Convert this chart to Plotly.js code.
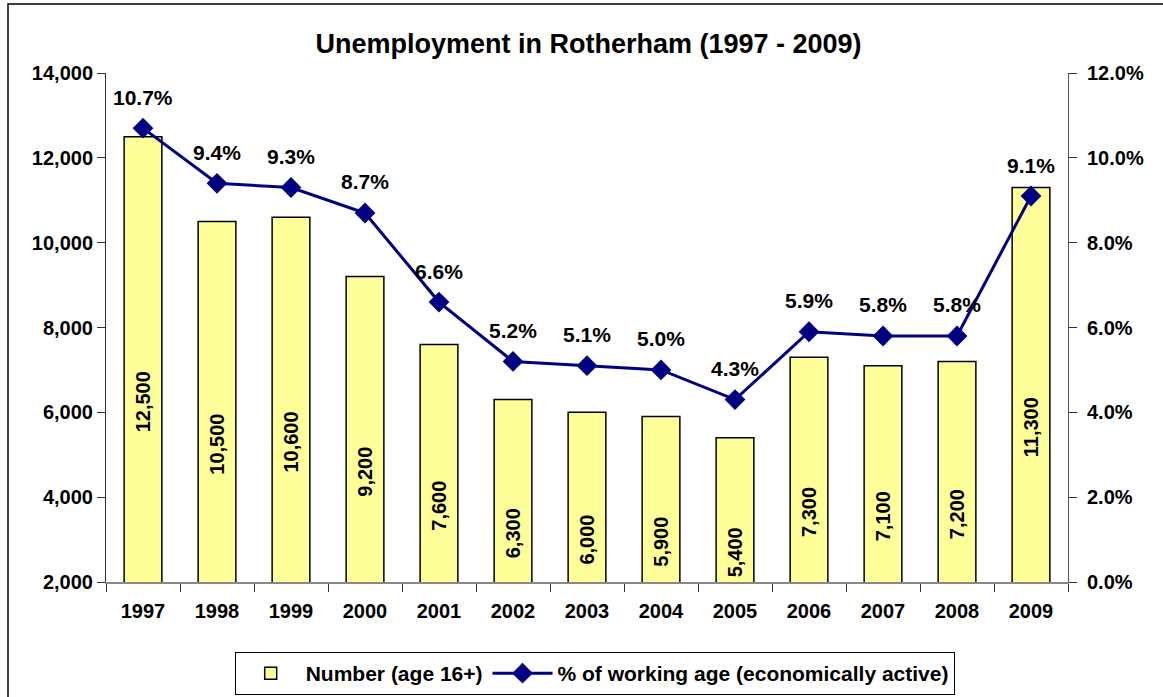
<!DOCTYPE html>
<html>
<head>
<meta charset="utf-8">
<script src="https://cdn.plot.ly/plotly-3.0.1.min.js"></script>
<style>html,body{margin:0;padding:0;background:#fff;}#chart{width:1163px;height:697px;}</style>
</head>
<body>
<div id="chart"></div>
<script>
var years = ['1997','1998','1999','2000','2001','2002','2003','2004','2005','2006','2007','2008','2009'];
var numbers = [12500,10500,10600,9200,7600,6300,6000,5900,5400,7300,7100,7200,11300];
var percents = [10.7,9.4,9.3,8.7,6.6,5.2,5.1,5.0,4.3,5.9,5.8,5.8,9.1];
var leftTicks = [2000,4000,6000,8000,10000,12000,14000];
var rightTicks = [0,2,4,6,8,10,12];
var rightTickText = rightTicks.map(function (v) { return v.toFixed(1) + '%'; });

var FONT = '"Liberation Sans", Arial, sans-serif';

var bars = {
  type: 'bar', name: 'Number (age 16+)', x: years, y: numbers,
  marker: {color: '#FFFF99', line: {color: '#000000', width: 1.5}},
  texttemplate: '%{y:,}', textposition: 'inside', insidetextanchor: 'middle', textangle: -90,
  textfont: {family: FONT, size: 20, weight: 'bold', color: '#000'},
  constraintext: 'none',
  hoverinfo: 'skip'
};
var line = {
  type: 'scatter', mode: 'lines+markers', name: '% of working age (economically active)',
  x: years, y: percents, yaxis: 'y2',
  line: {color: '#000080', width: 3},
  marker: {symbol: 'diamond', size: 16, color: '#000080'},
  hoverinfo: 'skip'
};

var annotations = years.map(function (yr, i) {
  return {x: i, y: percents[i], xref: 'x', yref: 'y2', text: percents[i].toFixed(1) + '%',
    showarrow: false, yshift: 31, font: {family: FONT, size: 21, weight: 'bold', color: '#000'}};
});

var layout = {
  width: 1163, height: 697,
  margin: {l: 106, r: 95, t: 73, b: 115, autoexpand: false},
  paper_bgcolor: '#fff', plot_bgcolor: '#fff',
  font: {family: FONT, size: 20, color: '#000', weight: 'bold'},
  title: {text: 'Unemployment in Rotherham (1997 - 2009)', x: 0.506, xanchor: 'center', y: 0.937, yanchor: 'middle',
    font: {family: FONT, size: 27, weight: 'bold', color: '#000'}},
  showlegend: true,
  legend: {orientation: 'h', x: 0.508, xanchor: 'center', yref: 'container', y: 1 - 652 / 697, yanchor: 'top',
    itemwidth: 60, bordercolor: '#000', borderwidth: 1, font: {family: FONT, size: 21, weight: 'bold'}, traceorder: 'normal'},
  bargap: 0.49,
  xaxis: {type: 'category', range: [-0.5, 12.5], autorange: false, automargin: false, showgrid: false, showline: true, linecolor: '#888', linewidth: 2,
    ticks: 'outside', tickson: 'boundaries', ticklen: 8, tickcolor: '#333', tickwidth: 1, tickangle: 0, ticklabelstandoff: 10,
    tickfont: {family: FONT, size: 20, weight: 'bold'}, zeroline: false},
  yaxis: {range: [2000, 14000], autorange: false, automargin: false, tickvals: leftTicks, tickformat: ',', showgrid: false, zeroline: false,
    showline: true, linecolor: '#333', linewidth: 1, ticks: 'outside', ticklen: 8, tickcolor: '#333',
    tickfont: {family: FONT, size: 20, weight: 'bold'}},
  yaxis2: {range: [0, 12], autorange: false, automargin: false, tickmode: 'array', tickvals: rightTicks, ticktext: rightTickText,
    overlaying: 'y', side: 'right', ticklabelstandoff: 6,
    showgrid: false, zeroline: false, showline: true, linecolor: '#555', linewidth: 1, ticks: 'outside',
    ticklen: 8, tickcolor: '#333', tickfont: {family: FONT, size: 20, weight: 'bold'}},
  annotations: annotations,
  shapes: [{type: 'rect', xref: 'paper', yref: 'paper', x0: (8 - 106) / 962, x1: (1175 - 106) / 962,
    y0: (582 - 710) / 509, y1: (582 - 4) / 509, line: {color: '#000', width: 1.5}, layer: 'below'}]
};

Plotly.newPlot('chart', [bars, line], layout, {displayModeBar: false, staticPlot: true});
</script>
</body>
</html>
